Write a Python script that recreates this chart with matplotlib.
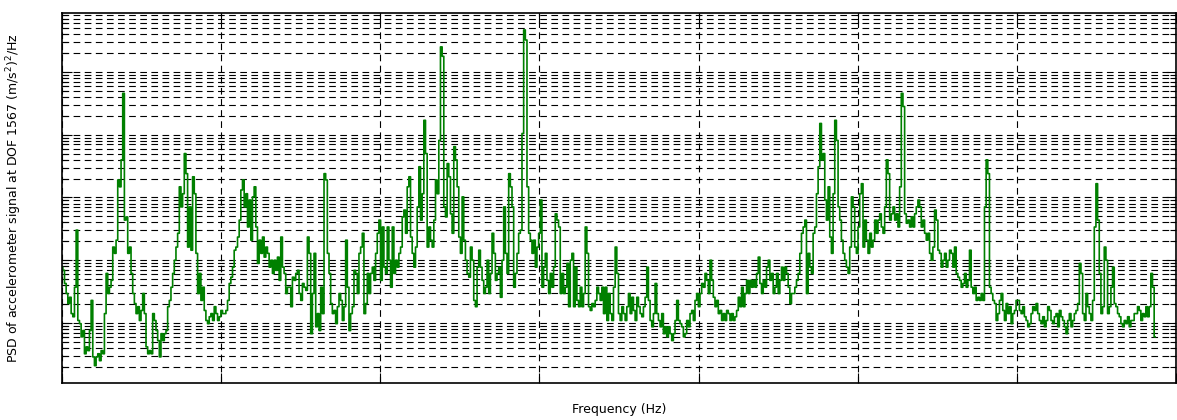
import numpy as np
import matplotlib
matplotlib.use("Agg")
import matplotlib.pyplot as plt
from matplotlib.ticker import LogLocator, NullFormatter, FixedLocator

# PSD, in dB re 1 (m/s^2)^2/Hz, split in frequency bands
psd_db_0_200 = [
    -51.1, -51.6, -53.7, -55.3, -56.9, -55.9, -58.5, -59.0, -54.3, -45.2,
    -59.6, -60.1, -62.2, -61.2, -64.9, -63.8, -64.4, -61.2, -56.4, -65.4,
    -66.8, -65.4, -64.9, -66.0, -64.4, -64.9, -58.5, -52.1, -55.3, -54.3,
    -53.2, -47.9, -48.9, -46.8, -37.2, -38.3, -34.0, -23.4, -43.6, -43.1,
    -48.9, -47.9, -52.1, -55.3, -56.9, -58.5, -57.4, -59.6, -58.0, -55.3,
    -58.5, -63.8, -64.9, -64.4, -64.9, -58.5, -59.6, -61.2, -62.8, -65.4,
    -61.7, -62.8, -61.7, -61.2, -57.4, -56.4, -54.3, -52.1, -50.0, -47.9,
    -45.7, -38.3, -41.5, -39.4, -33.0, -36.2, -47.9, -41.5, -48.4, -36.7,
    -39.4, -48.9, -55.3, -52.1, -56.4, -54.3, -58.0, -59.6, -60.1, -59.0,
    -58.5, -59.6, -57.4, -58.5, -59.6, -59.0, -58.0,
]
psd_db_200_400 = [
    -58.5, -58.5, -58.0, -56.4, -53.7, -52.7, -51.1, -48.4, -47.9, -46.3,
    -43.6, -38.8, -37.2, -41.5, -39.4, -44.7, -40.4, -46.8, -39.9, -38.3,
    -44.7, -50.5, -46.8, -48.9, -46.3, -49.5, -47.9, -48.9, -51.1, -50.0,
    -52.1, -50.0, -51.6, -49.5, -53.2, -46.3, -51.1, -52.1, -55.3, -54.3,
    -54.3, -57.4, -52.7, -53.2, -52.1, -51.6, -55.3, -56.4, -53.7, -54.3,
    -54.8, -46.3, -48.9, -61.7, -55.3, -48.9, -60.6, -58.5, -61.2, -54.3,
    -58.5, -36.2, -37.2, -48.9, -52.1, -56.9, -58.5, -58.0, -60.1, -57.4,
    -55.3, -56.4, -59.6, -57.4, -46.8, -54.3, -61.2, -58.5, -57.4, -51.6,
    -52.1, -55.3, -48.9, -47.9, -45.7, -58.5, -56.9, -52.1, -55.3, -52.1,
    -51.1, -53.2, -48.9, -45.7, -43.6, -53.2, -44.7,
]
psd_db_400_600 = [
    -51.1, -52.1, -44.7, -50.0, -54.3, -44.7, -52.1, -50.0, -51.1, -48.9,
    -47.9, -43.1, -42.0, -45.7, -38.3, -36.7, -46.3, -48.9, -51.1, -47.9,
    -41.5, -35.1, -43.6, -39.4, -27.7, -33.0, -47.9, -44.7, -46.8, -47.9,
    -43.6, -37.2, -39.4, -30.9, -16.0, -17.5, -41.5, -43.1, -34.6, -36.7,
    -42.6, -45.7, -31.9, -34.0, -38.3, -46.3, -48.9, -39.9, -46.8, -50.0,
    -52.1, -52.7, -47.9, -50.0, -56.4, -57.4, -51.1, -48.4, -51.1, -53.2,
    -55.3, -54.3, -50.0, -55.3, -52.1, -45.7, -48.9, -53.2, -52.1, -51.1,
    -55.9, -50.0, -41.5, -48.9, -52.1, -36.2, -38.3, -41.5, -54.3, -52.1,
    -48.9, -45.7, -45.2, -29.8, -13.3, -14.9, -38.3, -45.7, -46.8, -48.9,
    -46.8, -51.1, -47.9, -45.7, -40.4, -54.3,
]
psd_db_600_800 = [
    -51.1, -48.9, -53.2, -55.3, -52.1, -54.3, -51.1, -42.6, -43.6, -44.7,
    -55.3, -52.1, -55.3, -54.3, -50.5, -57.4, -50.0, -48.9, -57.4, -51.1,
    -56.4, -57.4, -54.3, -57.4, -55.3, -44.7, -48.9, -57.4, -58.0, -56.9,
    -57.4, -56.4, -54.3, -55.3, -56.4, -54.3, -58.5, -54.3, -59.6, -55.3,
    -58.5, -59.6, -54.3, -47.9, -52.1, -58.5, -59.6, -57.4, -58.5, -59.6,
    -57.4, -55.3, -58.5, -55.9, -58.0, -59.6, -55.9, -57.4, -58.5, -59.0,
    -57.4, -55.9, -51.1, -56.4, -59.6, -60.6, -58.5, -53.7, -58.5, -59.6,
    -60.6, -58.5, -61.7, -60.6, -62.2, -60.6, -61.7, -62.8, -61.7, -59.6,
    -56.4, -59.6, -60.1, -60.6, -62.2, -61.7, -59.6, -60.6, -58.5, -58.0,
    -59.6, -56.4, -55.3, -57.4,
]
psd_db_800_1000 = [
    -55.3, -53.7, -54.3, -52.1, -53.2, -55.3, -50.0, -53.2, -55.9, -57.4,
    -56.4, -58.5, -58.0, -59.6, -58.5, -59.6, -58.0, -58.5, -59.6, -58.5,
    -59.6, -59.0, -58.0, -55.9, -57.4, -54.3, -57.4, -55.3, -53.2, -55.3,
    -53.2, -54.3, -53.2, -54.3, -52.1, -49.5, -53.7, -55.3, -53.2, -54.3,
    -51.1, -50.0, -53.2, -52.1, -55.3, -54.3, -52.1, -55.3, -53.2, -51.1,
    -53.2, -51.1, -52.1, -54.3, -56.9, -55.3, -55.3, -54.3, -53.2, -52.1,
    -48.9, -45.7, -44.7, -43.6, -55.3, -48.9, -51.1, -52.1, -45.7, -44.7,
    -39.4, -35.1, -28.2, -34.0, -33.0, -40.4, -43.6, -38.3, -46.3, -48.9,
    -39.4, -27.7, -30.9, -41.5, -43.6, -46.8, -48.9, -50.0, -51.1, -52.1,
    -47.9, -39.9, -41.5, -47.9, -48.9, -44.7, -39.4,
]
psd_db_1000_1200 = [
    -37.8, -47.9, -43.6, -46.8, -48.9, -45.7, -47.9, -46.8, -43.6, -45.7,
    -43.6, -42.6, -44.7, -45.7, -41.5, -34.0, -36.2, -43.6, -42.6, -41.5,
    -43.6, -42.6, -44.7, -38.3, -23.4, -25.5, -42.6, -44.1, -43.6, -44.7,
    -43.1, -44.7, -42.6, -41.5, -40.4, -41.5, -44.7, -43.6, -45.7, -46.8,
    -45.7, -48.9, -50.0, -47.9, -42.0, -43.6, -48.4, -48.9, -51.1, -50.0,
    -48.9, -51.1, -50.0, -48.4, -48.9, -51.1, -47.9, -52.1, -52.7, -53.2,
    -54.3, -53.7, -52.1, -54.3, -53.2, -48.4, -54.3, -55.3, -54.3, -56.4,
    -55.9, -56.4, -55.3, -56.4, -41.5, -34.0, -36.2, -54.3, -55.3, -56.4,
    -56.9, -59.6, -58.5, -56.4, -55.3, -58.0, -59.6, -56.9, -58.5, -57.4,
    -60.1, -58.5, -58.0, -56.4,
]
psd_db_1200_1400 = [
    -56.4, -58.0, -58.5, -57.4, -59.0, -59.6, -60.6, -60.1, -58.5, -57.4,
    -58.0, -56.9, -58.5, -59.6, -60.1, -59.0, -60.6, -59.6, -57.4, -58.0,
    -59.6, -60.1, -59.0, -58.5, -60.6, -58.0, -59.0, -59.6, -60.6, -61.7,
    -59.6, -58.5, -60.6, -59.6, -58.5, -58.0, -56.9, -50.5, -52.1, -58.5,
    -59.6, -55.3, -57.4, -58.5, -59.6, -56.4, -44.7, -37.8, -43.6, -52.1,
    -58.5, -57.4, -47.9, -50.0, -58.5, -57.4, -54.3, -51.1, -56.9, -57.4,
    -58.5, -59.0, -60.1, -60.6, -59.6, -60.1, -59.0, -60.6, -59.6, -59.6,
    -58.5, -58.5, -57.4, -58.0, -59.6, -58.5, -59.0, -57.4, -59.0, -57.4,
    -52.1, -54.3, -62.2,
]

f_max_data = 1373.6  # last frequency bin (Hz)
x_max = 1400

psd_db = np.concatenate([psd_db_0_200, psd_db_200_400, psd_db_400_600,
                         psd_db_600_800, psd_db_800_1000, psd_db_1000_1200,
                         psd_db_1200_1400])
psd = 10 ** (psd_db / 10)
freq = np.linspace(0, f_max_data, len(psd))

fig = plt.figure(figsize=(11.77, 4.2), dpi=100)
ax = fig.add_axes([62 / 1177, 37 / 420, 1114 / 1177, 370 / 420])

ax.semilogy(freq, psd, color=(0, 0.5, 0), lw=1.2, drawstyle='steps-mid')

ax.set_xlim(0, x_max)
ax.set_ylim(10 ** -6.956, 10 ** -1.06)

ax.xaxis.set_major_locator(FixedLocator(np.arange(0, x_max + 1, 200)))
ax.yaxis.set_major_locator(LogLocator(base=10, numticks=20))
ax.yaxis.set_minor_locator(LogLocator(base=10, subs=np.arange(2, 10), numticks=20))
ax.xaxis.set_major_formatter(NullFormatter())
ax.yaxis.set_major_formatter(NullFormatter())
ax.yaxis.set_minor_formatter(NullFormatter())

ax.tick_params(which='both', direction='in', top=True, right=True, width=0.8)
ax.tick_params(which='major', length=7)
ax.tick_params(which='minor', length=4)

grid_style = dict(color='black', linestyle=(0, (6, 4)), linewidth=0.8)
ax.grid(True, which='major', axis='both', **grid_style)
ax.grid(True, which='minor', axis='y', **grid_style)

for s in ax.spines.values():
    s.set_linewidth(1.2)

ax.set_xlabel('Frequency (Hz)', fontsize=9, labelpad=11)
ax.set_ylabel('PSD of accelerometer signal at DOF 1567 (m/s$^2$)$^2$/Hz',
              fontsize=9, labelpad=24)

fig.savefig('out.png', dpi=100)
